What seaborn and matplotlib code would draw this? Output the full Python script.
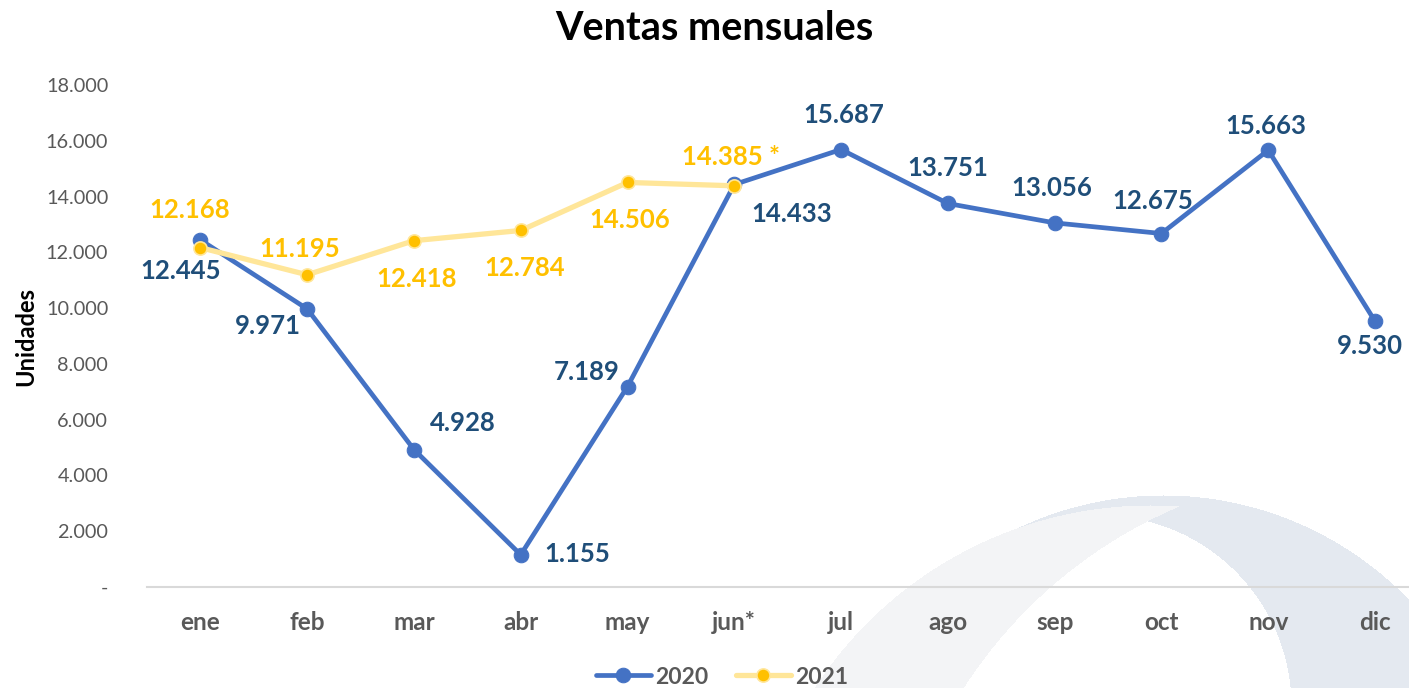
import seaborn as sns
import matplotlib.pyplot as plt
import numpy as np
from matplotlib.colors import to_rgba
from matplotlib.ticker import FuncFormatter

# Datos
meses = ['ene', 'feb', 'mar', 'abr', 'may', 'jun*', 'jul', 'ago', 'sep', 'oct', 'nov', 'dic']
ventas_2020 = [12445, 9971, 4928, 1155, 7189, 14433, 15687, 13751, 13056, 12675, 15663, 9530]
ventas_2021 = [12168, 11195, 12418, 12784, 14506, 14385]
sufijo_2021 = ['', '', '', '', '', ' *']

# posiciones de las etiquetas (pixeles respecto al punto)
off_2020 = [(-20, -31), (-39, -17), (49, 27), (57, 1), (-41, 15), (57, -30),
            (3, 35), (0, 35), (-3, 35), (-9, 33), (-2, 24), (-5, -25)]
off_2021 = [(-11, 38), (-7, 26), (3, -38), (4, -38), (2, -38), (-3, 29)]

sns.set_style('white')
plt.rcParams['font.family'] = ['Lato', 'DejaVu Sans']

azul, azul_osc = '#4472C4', '#1F4E79'
amarillo, amarillo_cl = '#FFC000', '#FFE699'
gris = '#595959'


def miles(v):
    return f'{int(v):,}'.replace(',', '.')


fig = plt.figure(figsize=(14.09, 6.88), dpi=100)

# fondo decorativo (arcos)
bg = fig.add_axes([0, 0, 1, 1], zorder=-1)
bg.axis('off')
W, H = 1409, 688
yy, xx = np.mgrid[0:H, 0:W]


def dentro(c, r):
    return (xx - c[0]) ** 2 + (yy - c[1]) ** 2 <= r ** 2


img = np.ones((H, W, 4))
claro = dentro((1150, 905), 400) & ~dentro((1366, 947), 479)
oscuro = dentro((1163, 836), 341) & ~dentro((1100, 706), 191)
img[oscuro] = to_rgba('#E4E9F0')
img[claro] = to_rgba('#F3F4F6')
bg.imshow(img, extent=(0, W, H, 0), aspect='auto', interpolation='antialiased')
bg.set_xlim(0, W)
bg.set_ylim(H, 0)

ax = fig.add_axes([147 / 1409, 101 / 688, (1409 - 147) / 1409, 502 / 688])
ax.set_facecolor('none')

sns.lineplot(x=meses, y=ventas_2020, ax=ax, color=azul, linewidth=3.4, marker='o',
             markersize=10.5, markeredgecolor=azul, label='2020', zorder=3)
sns.lineplot(x=meses[:6], y=ventas_2021, ax=ax, color=amarillo_cl, linewidth=3.8, marker='o',
             markersize=9.5, markerfacecolor=amarillo, markeredgecolor=amarillo_cl,
             markeredgewidth=1.2, label='2021', zorder=4)

for i, v in enumerate(ventas_2020):
    ax.annotate(miles(v), (i, v), xytext=off_2020[i], textcoords='offset pixels',
                ha='center', va='center', fontsize=18.5, fontweight='bold', color=azul_osc)
for i, v in enumerate(ventas_2021):
    ax.annotate(miles(v) + sufijo_2021[i], (i, v), xytext=off_2021[i], textcoords='offset pixels',
                ha='center', va='center', fontsize=18.5, fontweight='bold', color=amarillo)

ax.set_xlim(-0.5, 11 + 34 / 106.8)
ax.set_ylim(0, 18000)
ax.set_yticks(np.arange(0, 18001, 2000))
ax.yaxis.set_major_formatter(FuncFormatter(lambda v, p: '-' if v == 0 else miles(v)))
ax.tick_params(axis='y', length=0, pad=28, labelsize=14.3, labelcolor=gris)
ax.tick_params(axis='x', length=0, pad=17, labelsize=17.5, labelcolor=gris)
for lab in ax.get_xticklabels():
    lab.set_fontweight('bold')

for s in ['top', 'right', 'left']:
    ax.spines[s].set_visible(False)
ax.spines['bottom'].set_color('#D9D9D9')
ax.spines['bottom'].set_linewidth(1.5)

ax.set_ylabel('Unidades', fontsize=17, fontweight='bold', color='black', labelpad=6)
fig.text(714 / 1409, 1 - 28 / 688, 'Ventas mensuales', ha='center', va='center',
         fontsize=28.5, fontweight='bold', color='black')

leg = ax.legend(loc='center', bbox_to_anchor=(722 / 1409, 11 / 688), bbox_transform=fig.transFigure,
                ncol=2, frameon=False, handlelength=2.4, columnspacing=1.2, handletextpad=0.2,
                prop={'weight': 'bold', 'size': 16.5})
for t in leg.get_texts():
    t.set_color(gris)
    t.set_fontweight('bold')

fig.savefig('out.png', dpi=100)
